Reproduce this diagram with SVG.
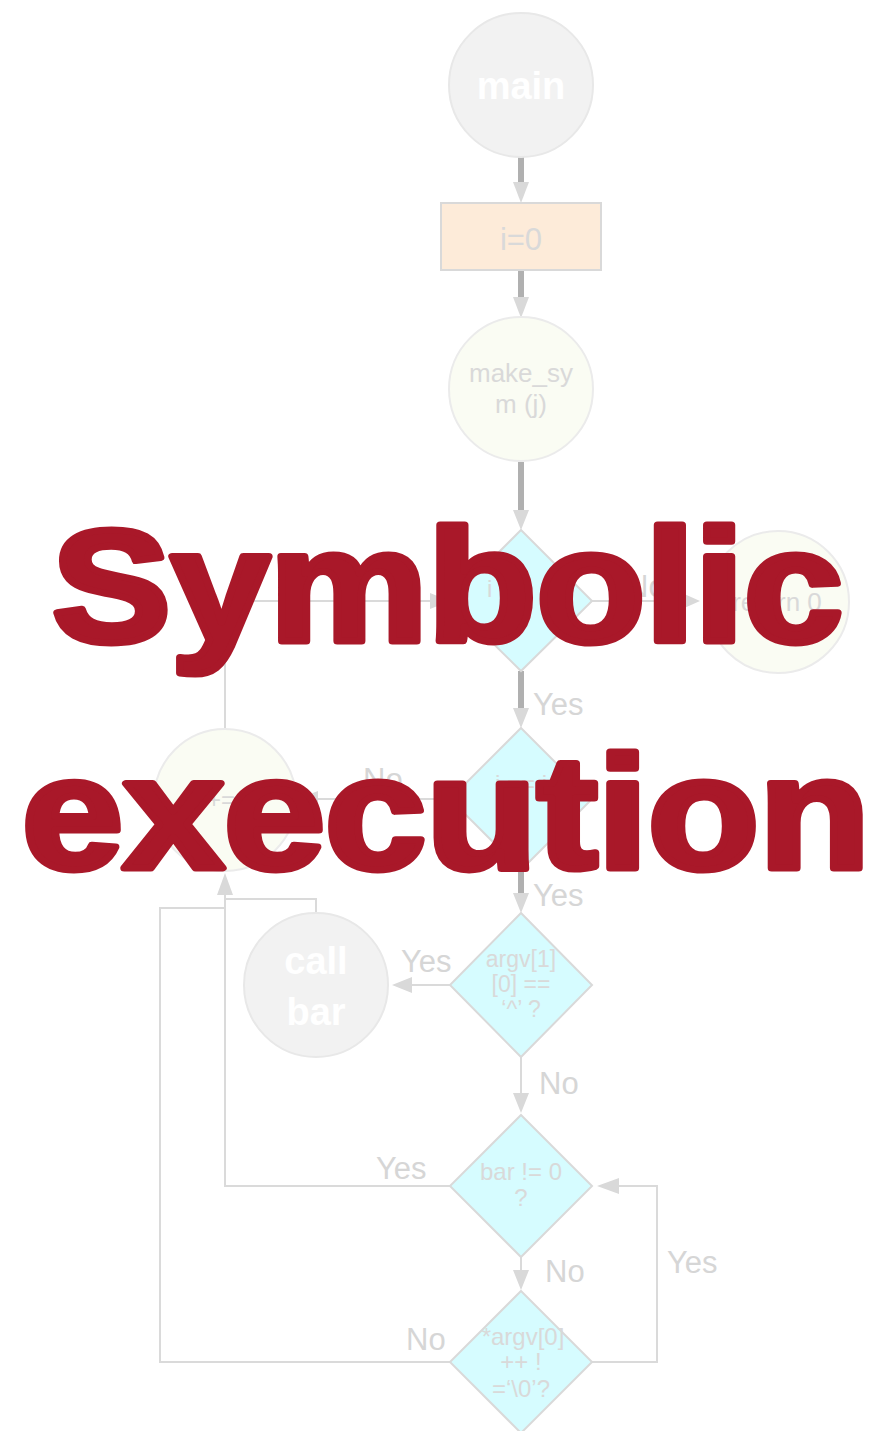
<svg xmlns="http://www.w3.org/2000/svg" width="878" height="1431" viewBox="0 0 878 1431">
<defs>
<style>
.thick{stroke:#b0b0b0;stroke-width:6;fill:none}
.thin{stroke:#dadada;stroke-width:2;fill:none}
.head{fill:#d9d9d9}
.lbl{font-family:"Liberation Sans",Arial,sans-serif;font-size:31px;fill:#d6d6d6}
.ntxt{font-family:"Liberation Sans",Arial,sans-serif;font-size:24px;fill:#d9d9d9;text-anchor:middle}
.wtxt{font-family:"Liberation Sans",Arial,sans-serif;font-size:38px;font-weight:bold;fill:#ffffff;text-anchor:middle}
.dia{fill:#d6fcff;stroke:#d9d9d9;stroke-width:2}
.grey{fill:#f2f2f2;stroke:#e8e8e8;stroke-width:2}
.pale{fill:#fafcf3;stroke:#ebebeb;stroke-width:2}
.title{font-family:"Liberation Sans",Arial,sans-serif;font-size:160px;font-weight:bold;fill:#a91829;stroke:#a91829;stroke-width:7;stroke-linejoin:round}
</style>
</defs>
<rect width="878" height="1431" fill="#ffffff"/>
<g id="connectors">
<line class="thick" x1="521" y1="157" x2="521" y2="184"/>
<polygon class="head" points="513,182 529,182 521,203"/>
<line class="thick" x1="521" y1="270" x2="521" y2="299"/>
<polygon class="head" points="513,297 529,297 521,318"/>
<line class="thick" x1="521" y1="462" x2="521" y2="512"/>
<polygon class="head" points="513,510 529,510 521,530"/>
<line class="thick" x1="521" y1="671" x2="521" y2="710"/>
<polygon class="head" points="513,708 529,708 521,728"/>
<line class="thick" x1="521" y1="870" x2="521" y2="895"/>
<polygon class="head" points="513,893 529,893 521,913"/>
<line class="thin" x1="592" y1="601" x2="684" y2="601"/>
<polygon class="head" points="682,593 682,609 700,601"/>
<polyline class="thin" points="225,728 225,601 432,601"/>
<polygon class="head" points="430,593 430,609 450,601"/>
<line class="thin" x1="450" y1="799" x2="316" y2="799"/>
<polygon class="head" points="318,791 318,807 297,799"/>
<line class="thin" x1="450" y1="985" x2="410" y2="985"/>
<polygon class="head" points="412,977 412,993 392,985"/>
<line class="thin" x1="521" y1="1057" x2="521" y2="1095"/>
<polygon class="head" points="513,1093 529,1093 521,1113"/>
<line class="thin" x1="521" y1="1257" x2="521" y2="1272"/>
<polygon class="head" points="513,1270 529,1270 521,1290"/>
<polyline class="thin" points="450,1186 225,1186 225,893"/>
<polygon class="head" points="217,895 233,895 225,873"/>
<polyline class="thin" points="316,912 316,899 225,899"/>
<polyline class="thin" points="450,1362 160,1362 160,908 225,908"/>
<polyline class="thin" points="592,1362 657,1362 657,1186 617,1186"/>
<polygon class="head" points="619,1178 619,1194 597,1186"/>
<text class="lbl" x="626" y="597">No</text>
<text class="lbl" x="533" y="715">Yes</text>
<text class="lbl" x="363" y="790">No</text>
<text class="lbl" x="533" y="906">Yes</text>
<text class="lbl" x="401" y="972">Yes</text>
<text class="lbl" x="539" y="1094">No</text>
<text class="lbl" x="376" y="1179">Yes</text>
<text class="lbl" x="545" y="1282">No</text>
<text class="lbl" x="667" y="1273">Yes</text>
<text class="lbl" x="406" y="1350">No</text>
</g>
<g id="main"><circle class="grey" cx="521" cy="85" r="72"/><text class="wtxt" x="521" y="99">main</text></g>
<g id="init"><rect x="441" y="203" width="160" height="67" fill="#fdebd9" stroke="#d9d9d9" stroke-width="2"/><text class="ntxt" x="521" y="250" style="font-size:31px">i=0</text></g>
<g id="makesym"><circle class="pale" cx="521" cy="389" r="72"/><text class="ntxt" x="521" y="382" style="font-size:26px">make_sy</text><text class="ntxt" x="521" y="413" style="font-size:26px">m (j)</text></g>
<g id="cond1"><polygon class="dia" points="521,530 592,601 521,671 450,601"/><text class="ntxt" x="510" y="597">i &lt; 0</text><text class="ntxt" x="521" y="620">?</text></g>
<g id="ret"><circle class="pale" cx="778" cy="602" r="71"/><text class="ntxt" x="777" y="611" style="font-size:26px">return 0</text></g>
<g id="cond2"><polygon class="dia" points="521,728 592,799 521,870 450,799"/><text class="ntxt" x="521" y="792">i == i</text></g>
<g id="incr"><circle class="pale" cx="225" cy="800" r="71"/><text class="ntxt" x="225" y="808">i+=1</text></g>
<g id="cond3"><polygon class="dia" points="521,913 592,985 521,1057 450,985"/><text class="ntxt" x="521" y="967" style="font-size:23px">argv[1]</text><text class="ntxt" x="521" y="992" style="font-size:23px">[0] ==</text><text class="ntxt" x="521" y="1017" style="font-size:23px">‘^’ ?</text></g>
<g id="callbar"><circle class="grey" cx="316" cy="985" r="72"/><text class="wtxt" x="316" y="974">call</text><text class="wtxt" x="316" y="1025">bar</text></g>
<g id="cond4"><polygon class="dia" points="521,1115 592,1186 521,1257 450,1186"/><text class="ntxt" x="521" y="1180">bar != 0</text><text class="ntxt" x="521" y="1206">?</text></g>
<g id="cond5"><polygon class="dia" points="521,1291 592,1362 521,1433 450,1362"/><text class="ntxt" x="523" y="1345">*argv[0]</text><text class="ntxt" x="521" y="1370">++ !</text><text class="ntxt" x="521" y="1397">=‘\0’?</text></g>
<g id="title">
<text class="title" x="52" y="641" textLength="791" lengthAdjust="spacingAndGlyphs">Symbolic</text>
<text class="title" x="22" y="868" textLength="848" lengthAdjust="spacingAndGlyphs">execution</text>
</g>
</svg>
